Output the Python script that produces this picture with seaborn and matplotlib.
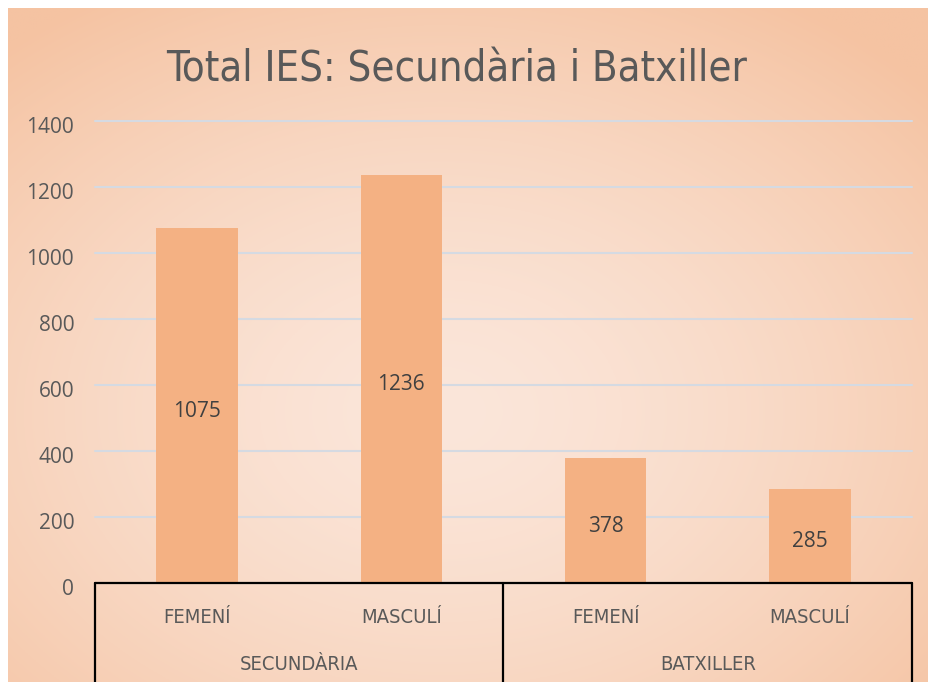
import numpy as np
import pandas as pd
import matplotlib
matplotlib.use("Agg")
import matplotlib.pyplot as plt
import matplotlib.transforms as mtransforms
import seaborn as sns

# ---- data ----
groups = ["SECUNDÀRIA", "SECUNDÀRIA", "BATXILLER", "BATXILLER"]
sexes = ["FEMENÍ", "MASCULÍ", "FEMENÍ", "MASCULÍ"]
values = [1075, 1236, 378, 285]
group_names = ["SECUNDÀRIA", "BATXILLER"]
yticks = [0, 200, 400, 600, 800, 1000, 1200, 1400]
title = "Total IES: Secundària i Batxiller"

df = pd.DataFrame({"pos": [f"{g}|{s}" for g, s in zip(groups, sexes)],
                   "value": values})

sns.set_theme(style="white")
plt.rcParams["font.family"] = ["Open Sans", "DejaVu Sans"]

narrow_fp = dict(family=["DejaVu Sans"], stretch="condensed")

W, H = 929, 682
fig = plt.figure(figsize=(W / 100, H / 100), dpi=100)
fig.patch.set_facecolor("white")

# background radial gradient
bg = fig.add_axes([8 / W, 0, 1 - 8 / W, 1 - 8 / H], zorder=-10)
yy, xx = np.mgrid[0:1:400j, 0:1:600j]
r = np.sqrt(((xx - 0.47) / 0.72) ** 2 + ((yy - 0.6) / 0.72) ** 2)
r = np.clip(r, 0, 1) ** 1.5
inner = np.array(matplotlib.colors.to_rgb("#fbe6da"))
outer = np.array(matplotlib.colors.to_rgb("#f5c3a2"))
img = inner[None, None, :] * (1 - r[..., None]) + outer[None, None, :] * r[..., None]
bg.imshow(img, aspect="auto", extent=[0, 1, 0, 1], origin="upper")
bg.set_axis_off()

ax = fig.add_axes([95 / W, 1 - 583 / H, (912 - 95) / W, (583 - 121) / H])
ax.set_facecolor("none")
bar_color = "#f4b183"
sns.barplot(data=df, x="pos", y="value", color=bar_color, width=0.4,
            saturation=1, ax=ax, zorder=3, linewidth=0, edgecolor="none")

ax.set_xlim(-0.5, 3.5)
ax.set_ylim(0, 1400)
ax.set_yticks(yticks)
ax.set_yticklabels([str(t) for t in yticks], fontsize=15, color="#595959")
ax.tick_params(axis="y", length=0, pad=15)
shift = mtransforms.ScaledTranslation(0, -3 / 72, fig.dpi_scale_trans)
for lab in ax.get_yticklabels():
    lab.set_transform(lab.get_transform() + shift)
ax.yaxis.grid(True, color="#d5dae2", linewidth=1.5, zorder=0)
for gl in ax.get_ygridlines():
    gl.set_clip_on(False)
ax.xaxis.grid(False)
for s in ax.spines.values():
    s.set_visible(False)
ax.set_xlabel("")
ax.set_ylabel("")
ax.set_xticks(range(len(sexes)))
ax.set_xticklabels(sexes, fontsize=14.5, color="#595959", **narrow_fp)
ax.tick_params(axis="x", length=0, pad=18)

# data labels in the middle of each bar
for i, v in enumerate(values):
    ax.annotate(str(v), xy=(i, v / 2), xytext=(0, -4), textcoords="offset points",
                ha="center", va="center", fontsize=15, color="#404040", zorder=4,
                bbox=dict(boxstyle="square,pad=0.25", fc=bar_color, ec="none"))

# grouped category axis lines
bottom = -(H - 583) / (583 - 121)
ax.plot([0, 1], [0, 0], transform=ax.transAxes, color="black", lw=1.6,
        clip_on=False, zorder=5)
for xf in [0, 0.5, 1]:
    ax.plot([xf, xf], [0, bottom], transform=ax.transAxes, color="black",
            lw=1.6, clip_on=False, zorder=5)
trans = mtransforms.blended_transform_factory(ax.transData, ax.transAxes)
for gi, g in enumerate(group_names):
    ax.text(gi * 2 + 0.5, (583 - 664) / (583 - 121), g, transform=trans,
            ha="center", va="center", fontsize=14.5, color="#595959",
            **narrow_fp)

fig.text(457 / W, 1 - 69 / H, title, ha="center", va="center",
         fontsize=30, color="#595959", **narrow_fp)

fig.savefig("out.png", dpi=100)
